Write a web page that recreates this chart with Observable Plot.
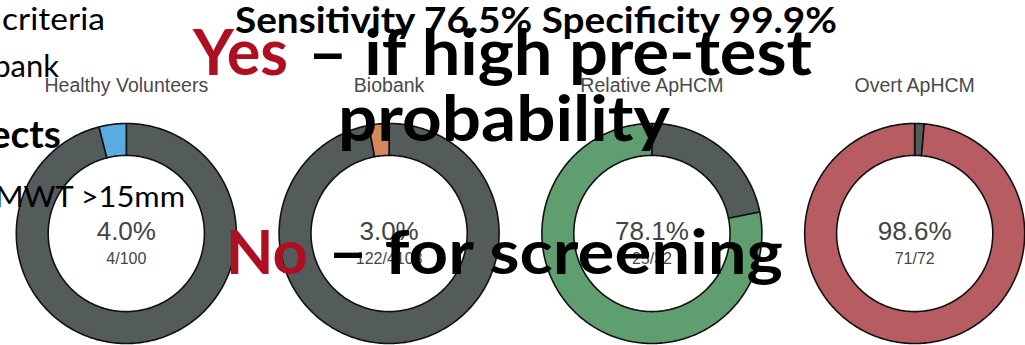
<!DOCTYPE html>
<html>
<head>
<meta charset="utf-8">
<script src="https://cdn.jsdelivr.net/npm/d3@7"></script>
<script src="https://cdn.jsdelivr.net/npm/@observablehq/plot@0.6"></script>
<style>
  html, body { margin: 0; padding: 0; background: #fff; }
  #stage { position: relative; width: 1025px; height: 345px; overflow: hidden; }
  #stage > svg { position: absolute; left: 0; top: 0; }
  #overlay { pointer-events: none; }
</style>
</head>
<body>
<div id="stage"></div>
<script>
// Cohort groups and counts of positive results
const groups = ["Healthy Volunteers", "Biobank", "Relative ApHCM", "Overt ApHCM"];
const positives = [4, 122, 25, 71];
const totals = [100, 4108, 32, 72];
const highlightColors = ["#5aabe0", "#d4895c", "#5e9e6f", "#b75c60"];
const restColor = "#535b5b";

// Slide text laid over the donuts
const headline = "Sensitivity 76.5% Specificity 99.9%";
const yesWord = "Yes";
const yesRest = "\u2013 if high pre-test";
const yesWrap = "probability";
const noWord = "No";
const noRest = "\u2013 for screening";
const sideNotes = ["criteria", "Biobank", "Subjects", "MWT >15mm"];

// Layout: one unit = outer radius of a ring
const W = 1025, H = 345;
const PX = 110;              // pixels per unit
const INNER = 0.71;          // inner radius (units)
const STEP = 262.8 / PX;     // spacing between ring centres (units)
const FIRST = 125.8;         // pixel position of first ring centre
const CY = 233;              // pixel position of ring centres

// Build closed annular-sector outlines for each slice
const slicePoints = [];
groups.forEach((g, i) => {
  const frac = positives[i] / totals[i];
  const parts = [
    {key: "rest", from: 0, to: 1 - frac, color: restColor},
    {key: "pos", from: 1 - frac, to: 1, color: highlightColors[i]}
  ];
  parts.forEach(p => {
    const a0 = p.from * 2 * Math.PI, a1 = p.to * 2 * Math.PI;
    const n = Math.max(2, Math.ceil((p.to - p.from) * 360));
    const id = g + "-" + p.key;
    for (let j = 0; j <= n; j++) {
      const a = a0 + (a1 - a0) * j / n;
      slicePoints.push({id, color: p.color, x: i * STEP + Math.sin(a), y: Math.cos(a)});
    }
    for (let j = n; j >= 0; j--) {
      const a = a0 + (a1 - a0) * j / n;
      slicePoints.push({id, color: p.color, x: i * STEP + INNER * Math.sin(a), y: INNER * Math.cos(a)});
    }
  });
});

const labels = groups.map((g, i) => ({
  group: g,
  x: i * STEP,
  y: 0,
  pct: (positives[i] / totals[i] * 100).toFixed(1) + "%",
  frac: positives[i] + "/" + totals[i]
}));

const font = "'Liberation Sans', Arial, sans-serif";

const chart = Plot.plot({
  width: W,
  height: H,
  margin: 0,
  style: {background: "transparent", fontFamily: font},
  x: {domain: [-FIRST / PX, (W - FIRST) / PX], axis: null},
  y: {domain: [-(H - CY) / PX, CY / PX], axis: null},
  color: {type: "identity"},
  marks: [
    Plot.line(slicePoints, {
      x: "x", y: "y", z: "id", fill: "color",
      stroke: "#111", strokeWidth: 1.6, strokeLinejoin: "round",
      curve: "linear-closed"
    }),
    Plot.text(labels, {x: "x", y: "y", text: "group", lineAnchor: "bottom", dy: -142,
      fontSize: 19.5, fill: "#4a4a4a"}),
    Plot.text(labels, {x: "x", y: "y", text: "pct", lineAnchor: "bottom", dy: 6,
      fontSize: 26, fill: "#444"}),
    Plot.text(labels, {x: "x", y: "y", text: "frac", lineAnchor: "bottom", dy: 30,
      fontSize: 16, fill: "#444"})
  ]
});
document.getElementById("stage").appendChild(chart);

// Overlaid slide text
const svg = d3.select("#stage").append("svg")
  .attr("id", "overlay")
  .attr("width", W).attr("height", H);

const slideFont = "Lato, 'Open Sans', sans-serif";
const red = "#ae1022";

function put(text, x, y, size, opts = {}) {
  const t = svg.append("text")
    .attr("x", x).attr("y", y)
    .attr("font-family", slideFont)
    .attr("font-size", size)
    .attr("font-weight", opts.bold ? 700 : 400)
    .attr("fill", opts.fill || "#000")
    .attr("text-anchor", opts.anchor || "start")
    .text(text);
  if (opts.len) t.attr("textLength", opts.len).attr("lengthAdjust", "spacingAndGlyphs");
  return t;
}

// left-hand bullet fragments
put(sideNotes[0], 2, 30, 30, {len: 103});
put(sideNotes[1], 59, 77, 31, {anchor: "end"});
put(sideNotes[2], 61, 148, 39, {bold: true, anchor: "end"});
put(sideNotes[3], -5, 207, 29, {len: 190});

// headline and verdicts
put(headline, 235, 33, 36, {bold: true, len: 602});
put(yesWord, 193, 75, 64, {bold: true, fill: red, len: 95});
put(yesRest, 308, 75, 64, {bold: true, len: 504});
put(yesWrap, 338, 141, 64, {bold: true, len: 332});
put(noWord, 226, 274, 62, {bold: true, fill: red, len: 82});
put(noRest, 328, 274, 62, {bold: true, len: 455});
</script>
</body>
</html>
